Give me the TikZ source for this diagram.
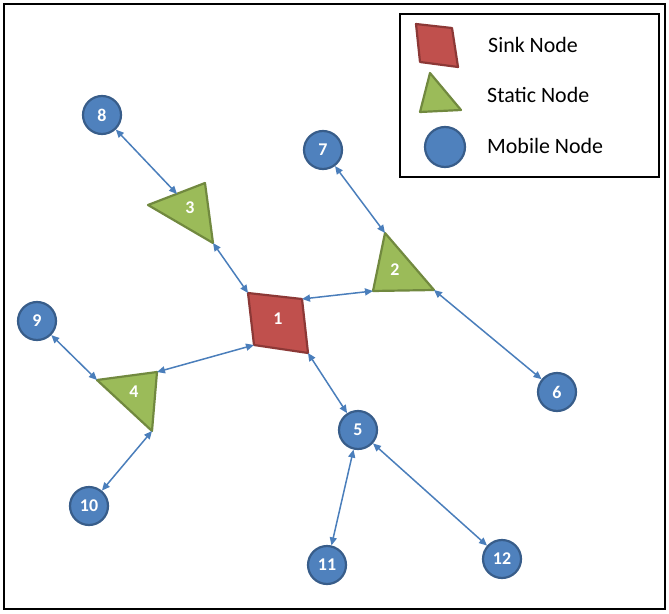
\documentclass[tikz,border=0pt]{standalone}
\usepackage{fontspec}
\setmainfont{Carlito}
\usetikzlibrary{arrows.meta}
\definecolor{mobileblue}{HTML}{4F81BD}
\definecolor{mobileedge}{HTML}{385D8A}
\definecolor{sinkred}{HTML}{C0504D}
\definecolor{sinkedge}{HTML}{8C3836}
\definecolor{staticgreen}{HTML}{9BBB59}
\definecolor{staticedge}{HTML}{71893F}
\definecolor{linkblue}{HTML}{4A7EBB}

\begin{document}
\begin{tikzpicture}[x=1bp, y=-1bp,
  mobile/.style={circle, fill=mobileblue, draw=mobileedge, line width=2.2bp,
    minimum size=38bp, inner sep=0pt, text=white, font=\bfseries\fontsize{18}{18}\selectfont},
  num/.style={text=white, inner sep=0pt, font=\bfseries\fontsize{18}{18}\selectfont},
  sinkshape/.style={fill=sinkred, draw=sinkedge, line width=2.2bp, line join=round},
  staticshape/.style={fill=staticgreen, draw=staticedge, line width=2.2bp, line join=round},
  radio/.style={linkblue, line width=1.5bp,
    {Triangle[length=8bp,width=7bp]}-{Triangle[length=8bp,width=7bp]}},
  keytext/.style={anchor=west, inner sep=0pt, font=\fontsize{22}{22}\selectfont}]
  \useasboundingbox (0,0) rectangle (669,614);
  \draw[line width=2.8bp] (4,4) rectangle (665,609);

  % sink node
  \coordinate (s1a) at (248,293);
  \coordinate (s1b) at (302,299);
  \coordinate (s1c) at (308,353);
  \coordinate (s1d) at (254,345);
  \draw[sinkshape] (s1a) -- (s1b) -- (s1c) -- (s1d) -- cycle;
  \node[num] (n1) at (278,319) {1};

  % static nodes (same triangle, turned)
  \coordinate (t2a) at (373,291);
  \coordinate (t2b) at (385,233);
  \coordinate (t2c) at (434,290);
  \draw[staticshape] (t2a) -- (t2b) -- (t2c) -- cycle;
  \node[num] (n2) at (395,270) {2};
  \coordinate (t3a) at (205,183);
  \coordinate (t3b) at (148,205);
  \coordinate (t3c) at (213,243);
  \coordinate (t3e) at (177,194);
  \draw[staticshape] (t3a) -- (t3b) -- (t3c) -- cycle;
  \node[num] (n3) at (190,208) {3};
  \coordinate (t4a) at (157,372);
  \coordinate (t4b) at (97,380);
  \coordinate (t4c) at (152,431);
  \draw[staticshape] (t4a) -- (t4b) -- (t4c) -- cycle;
  \node[num] (n4) at (134,392) {4};

  % mobile nodes
  \foreach \n/\x/\y in {5/358/430, 6/557/392, 7/323/150, 8/102/115,
                        9/37/321, 10/89/506, 11/327/565, 12/502/559}
    \node[mobile] (m\n) at (\x,\y) {\n};

  % links
  \draw[radio] (m8) -- (t3e);
  \draw[radio] (t3c) -- (s1a);
  \draw[radio] (m7) -- (t2b);
  \draw[radio] (t2a) -- (s1b);
  \draw[radio] (t2c) -- (m6);
  \draw[radio] (s1d) -- (t4a);
  \draw[radio] (m9) -- (t4b);
  \draw[radio] (t4c) -- (m10);
  \draw[radio] (s1c) -- (m5);
  \draw[radio] (m5) -- (m11);
  \draw[radio] (m5) -- (m12);

  % legend
  \draw[line width=2.8bp] (400,14) rectangle (659,177);
  \draw[sinkshape] (416,24) -- (452,28) -- (458,67) -- (420,62) -- cycle;
  \draw[staticshape] (430,73) -- (461,110) -- (420,112) -- cycle;
  \node[mobile, minimum size=40bp] (keymobile) at (445,147) {};
  \node[keytext] (keysink) at (488,45) {Sink Node};
  \node[keytext] (keystatic) at (487,95) {Static Node};
  \node[keytext] (keymobiletext) at (487,146) {Mobile Node};
\end{tikzpicture}
\end{document}
